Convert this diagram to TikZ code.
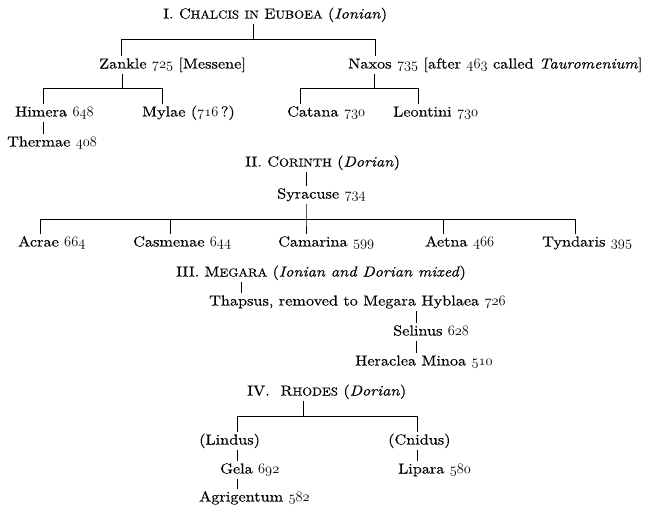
\documentclass[tikz,border=0pt]{standalone}
\usepackage{fontspec}
\setmainfont{lmroman10-regular.otf}[ItalicFont=lmroman10-italic.otf,BoldFont=lmroman10-bold.otf,BoldItalicFont=lmroman10-bolditalic.otf,FakeStretch=1.12,FakeBold=0.3]
\newcommand\mysc[2]{#1{\fontsize{11.5}{12}\selectfont #2}}
\newcommand\myos[1]{{\usefont{OML}{cmm}{m}{it}#1}}
\begin{document}
\begin{tikzpicture}[x=1pt,y=-1pt,
  lbl/.style={anchor=west,inner xsep=0pt,inner ysep=2.5pt,text height=10pt,text depth=3pt,font=\fontsize{14.5}{16}\selectfont},
  conn/.style={line width=0.7pt,black}]
\useasboundingbox (0,0) rectangle (652,507);
% Section I
\node[lbl] (s1) at (163,15) {I. \mysc{C}{HALCIS} \mysc{}{IN} \mysc{E}{UBOEA} (\textit{Ionian})};
\node[lbl] (zan) at (99,65) {Zankle \myos{725} [Messene]};
\node[lbl] (nax) at (348,65) {Naxos \myos{735} [after \myos{463} called \textit{Tauromenium}]};
\node[lbl] (him) at (15,113) {Himera \myos{648}};
\node[lbl] (myl) at (142,113) {Mylae (\myos{716}\,?)};
\node[lbl] (cat) at (287,113) {Catana \myos{730}};
\node[lbl] (leo) at (393,113) {Leontini \myos{730}};
\node[lbl] (the) at (7,143) {Thermae \myos{408}};
\coordinate (b1) at (253,39);
\coordinate (b1l) at (121,39);
\coordinate (b1r) at (375,39);
\draw[conn] (s1.south -| b1) -- (b1);
\draw[conn] (zan.north -| b1l) -- (b1l) -- (b1r) -- (nax.north -| b1r);
\coordinate (b2) at (122,88);
\coordinate (b2l) at (43,88);
\coordinate (b2r) at (162,88);
\draw[conn] (zan.south -| b2) -- (b2);
\draw[conn] (him.north -| b2l) -- (b2l) -- (b2r) -- (myl.north -| b2r);
\coordinate (b3) at (374,88);
\coordinate (b3l) at (300,88);
\coordinate (b3r) at (418,88);
\draw[conn] (nax.south -| b3) -- (b3);
\draw[conn] (cat.north -| b3l) -- (b3l) -- (b3r) -- (leo.north -| b3r);
\coordinate (c1) at (43,0);
\draw[conn] (him.south -| c1) -- (the.north -| c1);
% Section II
\node[lbl] (s2) at (245,163) {II. \mysc{C}{ORINTH} (\textit{Dorian})};
\node[lbl] (syr) at (277,195) {Syracuse \myos{734}};
\node[lbl] (acr) at (18,243) {Acrae \myos{664}};
\node[lbl] (cas) at (133,243) {Casmenae \myos{644}};
\node[lbl] (cam) at (278,243) {Camarina \myos{599}};
\node[lbl] (aet) at (425,243) {Aetna \myos{466}};
\node[lbl] (tyn) at (542,243) {Tyndaris \myos{395}};
\coordinate (c2) at (306,0);
\draw[conn] (s2.south -| c2) -- (syr.north -| c2);
\coordinate (b4) at (306,219);
\coordinate (b4l) at (40,219);
\coordinate (b4a) at (170,219);
\coordinate (b4b) at (443,219);
\coordinate (b4r) at (575,219);
\draw[conn] (syr.south -| b4) -- (b4) -- (cam.north -| b4);
\draw[conn] (acr.north -| b4l) -- (b4l) -- (b4r) -- (tyn.north -| b4r);
\draw[conn] (b4a) -- (cas.north -| b4a);
\draw[conn] (b4b) -- (aet.north -| b4b);
% Section III
\node[lbl] (s3) at (176,273) {III. \mysc{M}{EGARA} (\textit{Ionian and Dorian mixed})};
\node[lbl] (tha) at (209,302) {Thapsus, removed to Megara Hyblaea \myos{726}};
\node[lbl] (sel) at (393,332) {Selinus \myos{628}};
\node[lbl] (her) at (355,362) {Heraclea Minoa \myos{510}};
\coordinate (c3) at (241,0);
\coordinate (c4) at (416,0);
\draw[conn] (s3.south -| c3) -- (tha.north -| c3);
\draw[conn] (tha.south -| c4) -- (sel.north -| c4);
\draw[conn] (sel.south -| c4) -- (her.north -| c4);
% Section IV
\node[lbl] (s4) at (247,392) {IV.\ \ \mysc{R}{HODES} (\textit{Dorian})};
\node[lbl] (lin) at (199,441) {(Lindus)};
\node[lbl] (gel) at (220,470) {Gela \myos{692}};
\node[lbl] (agr) at (199,498) {Agrigentum \myos{582}};
\node[lbl] (cni) at (388,441) {(Cnidus)};
\node[lbl] (lip) at (398,470) {Lipara \myos{580}};
\coordinate (b5) at (303,416);
\coordinate (b5l) at (237,416);
\coordinate (b5r) at (417,416);
\draw[conn] (s4.south -| b5) -- (b5);
\draw[conn] (lin.north -| b5l) -- (b5l) -- (b5r) -- (cni.north -| b5r);
\draw[conn] (lin.south -| b5l) -- (gel.north -| b5l);
\draw[conn] (gel.south -| b5l) -- (agr.north -| b5l);
\draw[conn] (cni.south -| b5r) -- (lip.north -| b5r);
\end{tikzpicture}
\end{document}
